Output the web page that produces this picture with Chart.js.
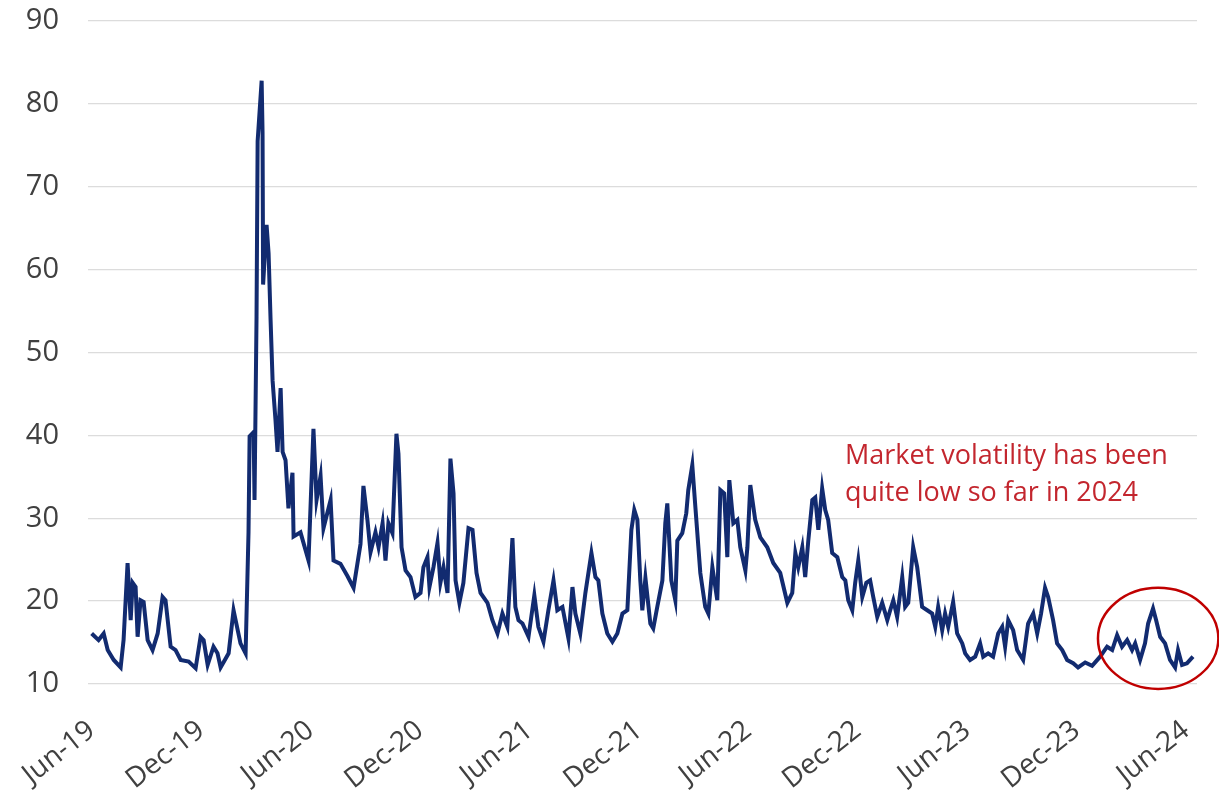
<!DOCTYPE html>
<html>
<head>
<meta charset="utf-8">
<script src="https://cdn.jsdelivr.net/npm/chart.js@4.4.1/dist/chart.umd.min.js"></script>
<style>
  html, body { margin: 0; padding: 0; background: #fff; }
  #wrap { width: 1219px; height: 797px; }
</style>
</head>
<body>
<div id="wrap"><canvas id="vixChart" width="1219" height="797"></canvas></div>
<script>
// VIX. x = months after Jun-19
const months = [
  0, 0.38, 0.66, 0.88, 1.21, 1.59, 1.75, 1.97, 2.14, 2.25, 2.41, 2.52, 2.68, 2.85,
  3.07, 3.34, 3.62, 3.89, 4.05, 4.33, 4.6, 4.88, 5.32, 5.7, 5.97, 6.14, 6.36, 6.68,
  6.9, 7.07, 7.51, 7.78, 8.16, 8.44, 8.6, 8.66, 8.88, 8.93, 9.04, 9.1, 9.32, 9.37,
  9.4, 9.59, 9.7, 9.81, 9.92, 10.08, 10.19, 10.36, 10.47, 10.63, 10.79, 11.01, 11.07,
  11.45, 11.89, 12.16, 12.33, 12.55, 12.71, 13.1, 13.26, 13.64, 14.03, 14.36, 14.74,
  14.9, 15.12, 15.29, 15.56, 15.73, 15.95, 16.11, 16.27, 16.49, 16.71, 16.82, 16.99,
  17.21, 17.48, 17.75, 18.03, 18.19, 18.41, 18.52, 18.74, 18.96, 19.12, 19.29, 19.51,
  19.67, 19.84, 19.95, 20.16, 20.38, 20.66, 20.88, 21.1, 21.32, 21.7, 21.97, 22.25,
  22.52, 22.79, 23.07, 23.23, 23.4, 23.62, 23.95, 24.27, 24.49, 24.77, 25.04, 25.32,
  25.53, 25.81, 26.14, 26.36, 26.52, 26.79, 27.07, 27.4, 27.62, 27.78, 28, 28.27,
  28.55, 28.82, 29.1, 29.37, 29.59, 29.75, 29.92, 30.08, 30.19, 30.36, 30.63, 30.79,
  31.01, 31.29, 31.45, 31.56, 31.78, 32, 32.11, 32.38, 32.6, 32.71, 32.93, 33.1,
  33.37, 33.64, 33.81, 34.03, 34.3, 34.47, 34.68, 34.85, 34.96, 35.18, 35.4, 35.56,
  35.84, 35.95, 36.11, 36.38, 36.66, 37.04, 37.37, 37.75, 38.14, 38.41, 38.58, 38.74,
  38.96, 39.12, 39.29, 39.51, 39.67, 39.84, 40.05, 40.22, 40.38, 40.6, 40.88, 41.15,
  41.32, 41.48, 41.7, 41.86, 42.03, 42.25, 42.47, 42.68, 42.85, 43.07, 43.34, 43.62,
  43.78, 43.95, 44.16, 44.44, 44.6, 44.77, 45.04, 45.26, 45.53, 45.81, 46.08, 46.25,
  46.41, 46.63, 46.79, 46.96, 47.23, 47.45, 47.73, 47.89, 48.16, 48.44, 48.71, 48.88,
  49.15, 49.42, 49.7, 49.92, 50.08, 50.25, 50.52, 50.74, 51.07, 51.34, 51.62, 51.84,
  52.05, 52.27, 52.44, 52.71, 52.93, 53.21, 53.48, 53.81, 54.08, 54.47, 54.85, 55.29,
  55.67, 55.95, 56.22, 56.49, 56.77, 57.04, 57.21, 57.48, 57.75, 57.92, 58.19, 58.36,
  58.58, 58.85, 59.12, 59.4, 59.56, 59.78, 60.05, 60.38
];
const vix = [
  16.1, 15.3, 16.1, 14.1, 12.9, 12.0, 15.3, 24.6, 17.7, 22.2, 21.7, 15.7, 20.1, 19.9,
  15.3, 14.1, 16.1, 20.5, 20.1, 14.5, 14.1, 12.9, 12.7, 11.9, 15.7, 15.3, 12.3, 14.5,
  13.7, 12.0, 13.7, 18.9, 14.9, 13.7, 28.3, 39.9, 40.4, 32.2, 54.3, 75.5, 82.8, 76.5,
  58.2, 65.4, 62, 53.9, 46.6, 41.8, 38, 45.7, 38, 37, 31.2, 35.5, 27.8,
  28.3, 24.9, 40.8, 32.2, 35.1, 28.8, 32.2, 24.9, 24.5, 23, 21.6, 26.9,
  33.9, 29.8, 25.9, 28.3, 26.5, 29.4, 24.9, 29.4, 28.2, 40.2, 37.8, 26.5,
  23.7, 22.9, 20.5, 21, 24.1, 25.3, 21.7, 24.1, 27, 22.2, 24.1, 21,
  37.2, 33, 22.5, 19.8, 22.2, 28.8, 28.6, 23.4, 21, 19.8, 17.7, 16.1,
  18.5, 16.9, 27.6, 19.3, 17.7, 17.3, 15.7, 20.7, 16.9, 15.1, 18.9, 22.5,
  18.9, 19.3, 15.5, 21.7, 18.5, 16.1, 21, 25.8, 22.9, 22.5, 18.5, 16.1,
  15.1, 16.1, 18.5, 18.9, 28.6, 31, 29.8, 22.5, 18.9, 22.8, 17.3, 16.7,
  19.3, 22.5, 29.4, 31.8, 22.5, 20.1, 27.3, 28.2, 30.6, 33.4, 36.4, 31.3,
  23.4, 19.3, 18.5, 24.1, 20.1, 33.4, 33, 25.3, 34.6, 29.4, 29.8, 26.5,
  23.7, 26.5, 34, 29.8, 27.7, 26.5, 24.6, 23.4, 19.8, 21, 25.8, 24.1,
  26.5, 22.9, 27.3, 32.2, 32.5, 28.6, 33.6, 31, 29.8, 25.8, 25.3, 22.9,
  22.5, 20.1, 18.9, 22.2, 24.9, 20.5, 22.2, 22.5, 20.5, 18.1, 19.8, 17.7,
  18.9, 20.1, 18.1, 22.9, 19.3, 19.8, 26.5, 24.1, 19.3, 18.9, 18.5, 16.9,
  19.3, 16.5, 18.5, 16.9, 19.9, 16.1, 14.9, 13.7, 12.9, 13.3, 14.9, 13.3,
  13.7, 13.3, 16.1, 16.9, 14.5, 17.7, 16.5, 14.1, 12.9, 17.3, 18.5, 16.1,
  18.5, 21.6, 20.5, 17.7, 14.9, 14.1, 12.9, 12.5, 12, 12.6, 12.2, 13.3,
  14.5, 14.1, 15.9, 14.5, 15.3, 14.1, 14.9, 12.9, 14.9, 17.3, 19.1, 17.7,
  15.7, 14.9, 12.9, 12, 14.1, 12.3, 12.5, 13.3
];

const tickMonths = [0, 6, 12, 18, 24, 30, 36, 42, 48, 54, 60];
const tickLabels = ["Jun-19", "Dec-19", "Jun-20", "Dec-20", "Jun-21", "Dec-21",
  "Jun-22", "Dec-22", "Jun-23", "Dec-23", "Jun-24"];
const yTicks = [10, 20, 30, 40, 50, 60, 70, 80, 90];

const noteLines = ["Market volatility has been", "quite low so far in 2024"];

// red note and the ring round 2024
const notePlugin = {
  id: "note",
  afterDraw(chart) {
    const { ctx } = chart;
    const x = chart.scales.x;
    const y = chart.scales.y;
    ctx.save();
    ctx.fillStyle = "#c3262e";
    ctx.font = "27px 'Open Sans'";
    ctx.textAlign = "left";
    ctx.textBaseline = "alphabetic";
    ctx.fillText(noteLines[0], x.getPixelForValue(41.3), y.getPixelForValue(36.6), 348);
    ctx.fillText(noteLines[1], x.getPixelForValue(41.3), y.getPixelForValue(32.05), 348);

    const cx = x.getPixelForValue(58.47);
    const cy = y.getPixelForValue(15.5);
    const rx = x.getPixelForValue(58.47 + 3.3) - cx;
    const ry = cy - y.getPixelForValue(15.5 + 6.1);
    ctx.beginPath();
    ctx.ellipse(cx, cy, rx, ry, 0, 0, Math.PI * 2);
    ctx.strokeStyle = "#c00000";
    ctx.lineWidth = 2.5;
    ctx.stroke();
    ctx.restore();
  }
};

const ctx = document.getElementById("vixChart").getContext("2d");

const vixChart = new Chart(ctx, {
  type: "line",
  data: {
    datasets: [
      {
        label: "VIX",
        data: months.map((m, i) => ({ x: m, y: vix[i] })),
        borderColor: "#122b70",
        borderWidth: 4,
        pointRadius: 0,
        tension: 0,
        fill: false,
      },
    ],
  },
  options: {
    responsive: false,
    animation: false,
    layout: { padding: { top: 21, right: 22, bottom: 0, left: 0 } },
    plugins: {
      legend: { display: false },
      tooltip: { enabled: false },
    },
    scales: {
      x: {
        type: "linear",
        min: -0.2,
        max: 60.6,
        grid: { display: false },
        border: { display: false },
        afterBuildTicks: (scale) => {
          scale.ticks = tickMonths.map((v) => ({ value: v }));
        },
        afterFit: (scale) => {
          scale.height = 113;
          scale.paddingLeft = 0;
          scale.paddingRight = 0;
        },
        ticks: {
          autoSkip: false,
          minRotation: 38,
          maxRotation: 38,
          padding: 22,
          color: "#404040",
          font: { family: "'Open Sans'", size: 28 },
          callback: (v, i) => tickLabels[i],
        },
      },
      y: {
        min: 10,
        max: 90,
        afterBuildTicks: (scale) => {
          scale.ticks = yTicks.map((v) => ({ value: v }));
        },
        afterFit: (scale) => {
          scale.width = 88;
          scale.paddingTop = 0;
          scale.paddingBottom = 0;
        },
        grid: { color: "#dcdcdc", lineWidth: 1.3, drawTicks: false },
        border: { display: false },
        ticks: {
          padding: 29,
          color: "#404040",
          font: { family: "'Open Sans'", size: 29 },
        },
      },
    },
  },
  plugins: [notePlugin],
});
</script>
</body>
</html>
